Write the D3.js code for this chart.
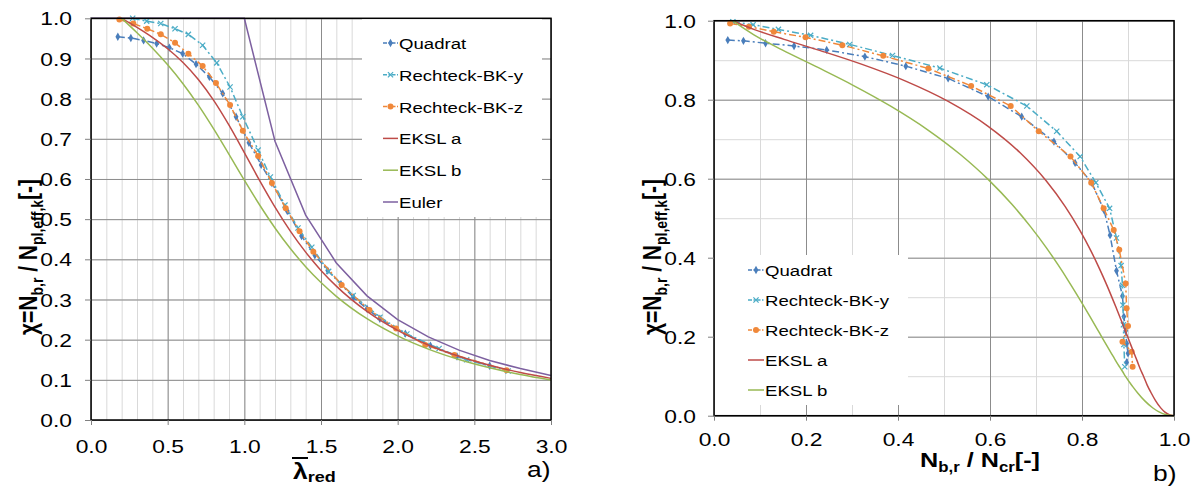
<!DOCTYPE html>
<html>
<head>
<meta charset="utf-8">
<script src="https://cdn.jsdelivr.net/npm/d3@7"></script>
<style>
  body { margin: 0; background: #fff; }
  svg { display: block; }
  text { font-family: "Liberation Sans", Arial, sans-serif; fill: #000; white-space: pre; }
</style>
</head>
<body>
<svg id="fig" width="1197" height="486"></svg>
<script>
// ---------- series names and tick values ----------
const seriesNames = ["Quadrat", "Rechteck-BK-y", "Rechteck-BK-z", "EKSL a", "EKSL b", "Euler"];
const lambdaTicks = [0, 0.5, 1.0, 1.5, 2.0, 2.5, 3.0];
const chiTicksLeft = [0, 0.1, 0.2, 0.3, 0.4, 0.5, 0.6, 0.7, 0.8, 0.9, 1.0];
const ratioTicks = [0, 0.2, 0.4, 0.6, 0.8, 1.0];
const chiTicksRight = [0, 0.2, 0.4, 0.6, 0.8, 1.0];
const lambdaMinor = [0,0.1,0.2,0.3,0.4,0.5,0.6,0.7,0.8,0.9,1.0,1.1,1.2,1.3,1.4,1.5,1.6,1.7,1.8,1.9,2.0,2.1,2.2,2.3,2.4,2.5,2.6,2.7,2.8,2.9,3.0];
const ratioMinor = [0,0.1,0.2,0.3,0.4,0.5,0.6,0.7,0.8,0.9,1.0];

// ---------- a) chi over reduced slenderness [lambda, chi] ----------
const quadratA = [[0.175,0.954],[0.26,0.951],[0.343,0.945],[0.428,0.937],[0.511,0.927],[0.598,0.912],[0.685,0.886],[0.772,0.854],[0.859,0.813],[0.946,0.755],[1.03,0.69],[1.11,0.635],[1.18,0.59],[1.28,0.52],[1.373,0.458],[1.46,0.41],[1.544,0.372],[1.63,0.338],[1.712,0.305],[1.8,0.277],[1.884,0.252],[2.05,0.215],[2.214,0.185],[2.387,0.158],[2.6,0.135]];
const bkyA = [[0.272,1.0],[0.363,0.993],[0.455,0.987],[0.548,0.974],[0.635,0.96],[0.728,0.933],[0.82,0.889],[0.907,0.829],[0.99,0.755],[1.09,0.672],[1.17,0.605],[1.265,0.535],[1.35,0.478],[1.44,0.43],[1.55,0.37],[1.71,0.31],[1.885,0.256],[2.06,0.214],[2.27,0.178],[2.45,0.15],[2.72,0.122]];
const bkzA = [[0.185,0.997],[0.276,0.987],[0.367,0.974],[0.455,0.96],[0.548,0.939],[0.635,0.912],[0.728,0.881],[0.815,0.839],[0.907,0.784],[0.99,0.72],[1.09,0.657],[1.18,0.59],[1.27,0.527],[1.36,0.47],[1.45,0.419],[1.635,0.336],[1.816,0.274],[1.99,0.228],[2.18,0.187],[2.37,0.162],[2.71,0.124]];
const ekslAa = [[0.2,1],[0.3,0.9775],[0.4,0.9528],[0.5,0.9243],[0.6,0.89],[0.7,0.8477],[0.8,0.7957],[0.9,0.7339],[1.0,0.6656],[1.1,0.596],[1.2,0.53],[1.3,0.4703],[1.4,0.4179],[1.5,0.3724],[1.6,0.3332],[1.8,0.2702],[2.0,0.2229],[2.2,0.1867],[2.4,0.1585],[2.6,0.1362],[2.8,0.1182],[3.0,0.1036]];
const ekslBa = [[0.2,1],[0.3,0.9641],[0.4,0.9261],[0.5,0.8842],[0.6,0.8371],[0.7,0.7837],[0.8,0.7245],[0.9,0.6612],[1.0,0.597],[1.1,0.5352],[1.2,0.4781],[1.3,0.4269],[1.4,0.3817],[1.5,0.3422],[1.6,0.3079],[1.8,0.2521],[2.0,0.2095],[2.2,0.1765],[2.4,0.1506],[2.6,0.1299],[2.8,0.1132],[3.0,0.0994]];
const eulerA = [[0,1],[1.0,1],[1.2,0.694],[1.4,0.51],[1.6,0.391],[1.8,0.309],[2.0,0.25],[2.2,0.207],[2.4,0.174],[2.6,0.148],[2.8,0.128],[3.0,0.111]];

// ---------- b) chi over N_b,r / N_cr [ratio, chi] ----------
const quadratB = [[0.03,0.951],[0.064,0.949],[0.112,0.943],[0.174,0.936],[0.245,0.926],[0.328,0.909],[0.417,0.885],[0.509,0.854],[0.596,0.808],[0.669,0.757],[0.739,0.694],[0.785,0.64],[0.821,0.59],[0.848,0.52],[0.861,0.457],[0.875,0.367],[0.888,0.303],[0.891,0.251],[0.895,0.215],[0.897,0.183],[0.9,0.158],[0.897,0.135]];
const bkyB = [[0.041,0.997],[0.085,0.99],[0.14,0.978],[0.21,0.963],[0.295,0.94],[0.388,0.912],[0.491,0.88],[0.593,0.838],[0.68,0.784],[0.745,0.72],[0.796,0.656],[0.83,0.59],[0.86,0.525],[0.875,0.45],[0.885,0.38],[0.888,0.33],[0.889,0.28],[0.89,0.23],[0.891,0.18],[0.893,0.124]];
const bkzB = [[0.035,0.993],[0.076,0.985],[0.13,0.972],[0.199,0.958],[0.279,0.938],[0.368,0.911],[0.466,0.879],[0.559,0.835],[0.645,0.784],[0.706,0.72],[0.775,0.656],[0.82,0.59],[0.847,0.525],[0.869,0.47],[0.881,0.42],[0.895,0.335],[0.897,0.272],[0.9,0.227],[0.888,0.187],[0.908,0.162],[0.91,0.124]];
const ekslAb = [[0.04,1],[0.088,0.9775],[0.1524,0.9528],[0.2311,0.9243],[0.3204,0.89],[0.4154,0.8477],[0.5092,0.7957],[0.5945,0.7339],[0.6656,0.6656],[0.7212,0.596],[0.7632,0.53],[0.7948,0.4703],[0.8191,0.4179],[0.8379,0.3724],[0.853,0.3332],[0.8754,0.2702],[0.8916,0.2229],[0.9036,0.1867],[0.913,0.1585],[0.9207,0.1362],[0.9267,0.1182],[0.9324,0.1036],[0.942,0.0769],[0.9496,0.0594],[0.9598,0.0384],[0.9711,0.0198],[0.9796,0.0098],[0.9897,0.0025],[1.0,0]];
const ekslBb = [[0.04,1],[0.0868,0.9641],[0.1482,0.9261],[0.2211,0.8842],[0.3014,0.8371],[0.384,0.7837],[0.4637,0.7245],[0.5356,0.6612],[0.597,0.597],[0.6476,0.5352],[0.6885,0.4781],[0.7215,0.4269],[0.7481,0.3817],[0.77,0.3422],[0.7882,0.3079],[0.8168,0.2521],[0.838,0.2095],[0.8543,0.1765],[0.8675,0.1506],[0.8781,0.1299],[0.8875,0.1132],[0.8946,0.0994],[0.9099,0.0743],[0.9211,0.0576],[0.9365,0.0375],[0.9541,0.0195],[0.9675,0.0097],[0.9834,0.0025],[1.0,0]];

// ---------- styling ----------
const STYLE = {
  "Quadrat":       { color: "#4a7ebb", dash: "7,3,2,3", marker: "diamond", curve: d3.curveLinear },
  "Rechteck-BK-y": { color: "#4bacc6", dash: "7,3,2,3", marker: "x",       curve: d3.curveLinear },
  "Rechteck-BK-z": { color: "#f0883a", dash: "7,3,2,3", marker: "circle",  curve: d3.curveLinear },
  "EKSL a":        { color: "#be4b48", dash: null, marker: null, curve: d3.curveMonotoneX },
  "EKSL b":        { color: "#98b954", dash: null, marker: null, curve: d3.curveMonotoneX },
  "Euler":         { color: "#7d60a0", dash: null, marker: null, curve: d3.curveLinear }
};
const SX = 1.2;               // horizontal text stretch
const TICK_FONT = 19;
const svg = d3.select("#fig");
svg.append("rect").attr("width", 1197).attr("height", 486).attr("fill", "#fff");

function drawMarker(g, type, cx, cy, color) {
  if (type === "circle") {
    g.append("circle").attr("cx", cx).attr("cy", cy).attr("r", 3).attr("fill", color);
  } else if (type === "diamond") {
    g.append("path").attr("transform", `translate(${cx},${cy})`)
      .attr("d", d3.symbol().type(d3.symbolDiamond).size(20)()).attr("fill", color);
  } else if (type === "x") {
    g.append("path").attr("transform", `translate(${cx},${cy})`)
      .attr("d", "M-2.6,-2.6L2.6,2.6M-2.6,2.6L2.6,-2.6")
      .attr("stroke", color).attr("stroke-width", 1.2).attr("fill", "none");
  }
}

// text with optional subscript runs: parts = [[string, isSub], ...]
function richText(parent, x, y, parts, o) {
  const t = parent.append("text")
    .attr("transform", `translate(${x},${y}) scale(${SX},1)` + (o.rotate ? ` rotate(${o.rotate})` : ""))
    .attr("font-size", o.size)
    .attr("font-weight", o.bold ? "bold" : "normal")
    .attr("text-anchor", o.anchor || "start");
  let down = false;
  parts.forEach(([s, sub]) => {
    const sp = t.append("tspan").text(s);
    if (sub) { sp.attr("font-size", o.subSize).attr("dy", down ? 0 : o.shift); down = true; }
    else { if (down) sp.attr("dy", -o.shift); down = false; }
  });
  return t;
}

function panel(cfg) {
  const g = svg.append("g");
  const x = d3.scaleLinear().domain(cfg.xDomain).range([cfg.left, cfg.right]);
  const y = d3.scaleLinear().domain([0, 1]).range([cfg.bottom, cfg.top]);
  const h = cfg.bottom - cfg.top, w = cfg.right - cfg.left;

  // minor grid
  g.append("g").attr("transform", `translate(0,${cfg.bottom})`)
    .call(d3.axisBottom(x).tickValues(cfg.xMinor).tickSize(-h).tickFormat(""))
    .call(s => { s.select(".domain").remove(); s.selectAll("line").attr("stroke", "#d9d9d9").attr("stroke-width", 1); });
  g.append("g").attr("transform", `translate(${cfg.left},0)`)
    .call(d3.axisLeft(y).tickValues(cfg.yMinor).tickSize(-w).tickFormat(""))
    .call(s => { s.select(".domain").remove(); s.selectAll("line").attr("stroke", "#d9d9d9").attr("stroke-width", 1); });
  // major grid
  g.append("g").attr("transform", `translate(0,${cfg.bottom})`)
    .call(d3.axisBottom(x).tickValues(cfg.xTicks).tickSize(-h).tickFormat(""))
    .call(s => { s.select(".domain").remove(); s.selectAll("line").attr("stroke", "#8c8c8c").attr("stroke-width", 1); });
  g.append("g").attr("transform", `translate(${cfg.left},0)`)
    .call(d3.axisLeft(y).tickValues(cfg.yTicks).tickSize(-w).tickFormat(""))
    .call(s => { s.select(".domain").remove(); s.selectAll("line").attr("stroke", "#8c8c8c").attr("stroke-width", 1); });

  // data
  cfg.series.forEach(([name, data]) => {
    const st = STYLE[name];
    const line = d3.line().x(d => x(d[0])).y(d => y(d[1])).curve(st.curve);
    g.append("path").datum(data).attr("d", line)
      .attr("fill", "none").attr("stroke", st.color).attr("stroke-width", 1.5)
      .attr("stroke-dasharray", st.dash);
    if (st.marker) data.forEach(d => drawMarker(g, st.marker, x(d[0]), y(d[1]), st.color));
  });

  // legend
  const L = cfg.legend;
  g.append("rect").attr("x", L.x0).attr("y", L.y0).attr("width", L.x1 - L.x0).attr("height", L.y1 - L.y0).attr("fill", "#fff");
  cfg.series.forEach(([name], i) => {
    const st = STYLE[name];
    const yy = L.row0 + i * L.step;
    g.append("line").attr("x1", L.sx0).attr("x2", L.sx1).attr("y1", yy).attr("y2", yy)
      .attr("stroke", st.color).attr("stroke-width", 1.5).attr("stroke-dasharray", st.dash ? "4,1.5,1.5,1.5" : null);
    if (st.marker) drawMarker(g, st.marker, (L.sx0 + L.sx1) / 2, yy, st.color);
    richText(g, L.sx1 + 1, yy + 6, [[name, false]], { size: 15.5 });
  });

  // frame
  g.append("rect").attr("x", cfg.left).attr("y", cfg.top).attr("width", w).attr("height", h)
    .attr("fill", "none").attr("stroke", "#000").attr("stroke-width", 1.5);

  // axes with outward ticks and labels
  const fmt = d3.format(".1f");
  g.append("g").attr("transform", `translate(0,${cfg.bottom})`)
    .call(d3.axisBottom(x).tickValues(cfg.xTicks).tickSize(5).tickFormat(fmt))
    .call(s => {
      s.select(".domain").remove();
      s.selectAll("line").attr("stroke", "#808080");
      s.selectAll("text").attr("font-size", TICK_FONT).attr("font-family", null)
        .attr("y", cfg.xLabelDy).attr("dy", "0.35em").attr("transform", `scale(${SX},1)`);
    });
  g.append("g").attr("transform", `translate(${cfg.left},0)`)
    .call(d3.axisLeft(y).tickValues(cfg.yTicks).tickSize(6).tickFormat(fmt))
    .call(s => {
      s.select(".domain").remove();
      s.selectAll("line").attr("stroke", "#808080");
      s.selectAll("text").attr("font-size", TICK_FONT).attr("font-family", null)
        .attr("x", -cfg.yLabelDx / SX).attr("dy", "0.35em").attr("transform", `scale(${SX},1)`);
    });

  // y title
  richText(g, cfg.yTitleX, cfg.yTitleY,
    [["χ=N", false], ["b,r", true], [" / N", false], ["pl,eff,k", true], ["[-]", false]],
    { size: 21, subSize: 14, shift: 5, bold: true, rotate: -90, anchor: "middle" });
  return { g, x, y };
}

// ---------- a) ----------
const pa = panel({
  xDomain: [0, 3], left: 91, right: 551, top: 18.3, bottom: 420,
  xTicks: lambdaTicks, xMinor: lambdaMinor, yTicks: chiTicksLeft, yMinor: chiTicksLeft,
  xLabelDy: 26, yLabelDx: 19, yTitleX: 37, yTitleY: 257,
  series: [["Quadrat", quadratA], ["Rechteck-BK-y", bkyA], ["Rechteck-BK-z", bkzA],
           ["EKSL a", ekslAa], ["EKSL b", ekslBa], ["Euler", eulerA]],
  legend: { x0: 362, x1: 542, y0: 19, y1: 217, row0: 43, step: 31.8, sx0: 383, sx1: 398 }
});
// x title: lambda bar, reduced
richText(pa.g, 293, 479, [["λ", false], ["red", true]],
  { size: 22, subSize: 15, shift: 3, bold: true });
pa.g.append("line").attr("x1", 292).attr("x2", 308).attr("y1", 458).attr("y2", 458)
  .attr("stroke", "#000").attr("stroke-width", 2);
richText(pa.g, 527, 477, [["a)", false]], { size: 22 });

// ---------- b) ----------
const pb = panel({
  xDomain: [0, 1], left: 714, right: 1174, top: 20.7, bottom: 415.7,
  xTicks: ratioTicks, xMinor: ratioMinor, yTicks: chiTicksRight, yMinor: ratioMinor,
  xLabelDy: 24, yLabelDx: 18, yTitleX: 661, yTitleY: 257,
  series: [["Quadrat", quadratB], ["Rechteck-BK-y", bkyB], ["Rechteck-BK-z", bkzB],
           ["EKSL a", ekslAb], ["EKSL b", ekslBb]],
  legend: { x0: 715, x1: 908, y0: 255, y1: 405, row0: 270, step: 30, sx0: 748, sx1: 764 }
});
richText(pb.g, 980, 467, [["N", false], ["b,r", true], [" / N", false], ["cr", true], ["[-]", false]],
  { size: 21, subSize: 14, shift: 5, bold: true, anchor: "middle" });
richText(pb.g, 1153, 481, [["b)", false]], { size: 22 });
</script>
</body>
</html>
